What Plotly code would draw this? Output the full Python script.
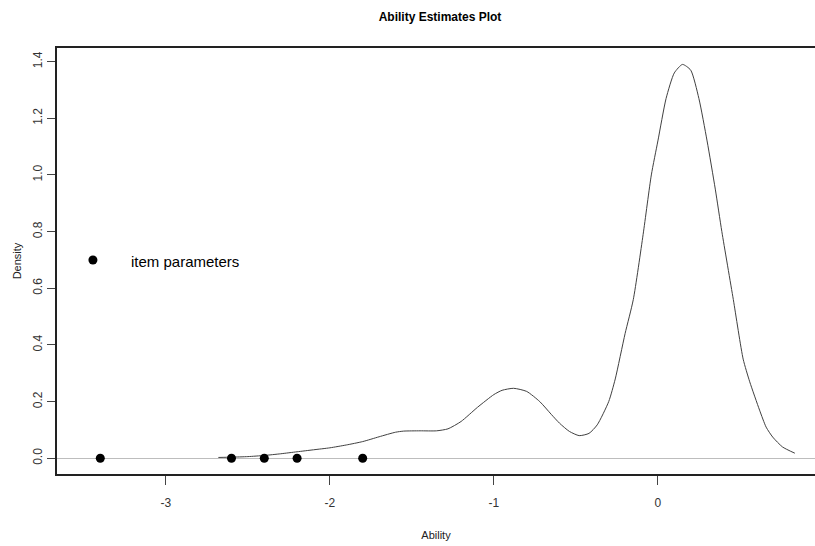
import plotly.graph_objects as go

# Density curve of ability estimates
ability_x = [-2.68, -2.6, -2.5, -2.4, -2.3, -2.2, -2.1, -2.0, -1.9, -1.8, -1.7, -1.6, -1.55,
             -1.45, -1.35, -1.28, -1.2, -1.1, -1.0, -0.95, -0.88, -0.8, -0.72, -0.65, -0.6,
             -0.54, -0.48, -0.42, -0.37, -0.3, -0.26, -0.2, -0.15, -0.09, -0.04, 0.0, 0.05,
             0.1, 0.15, 0.2, 0.25, 0.3, 0.35, 0.39, 0.46, 0.52, 0.56, 0.62, 0.66, 0.7, 0.76, 0.835]
density_y = [0.003, 0.004, 0.006, 0.01, 0.016, 0.023, 0.03, 0.037, 0.047, 0.059, 0.076, 0.092, 0.096,
             0.097, 0.097, 0.104, 0.13, 0.18, 0.225, 0.24, 0.247, 0.236, 0.2, 0.155, 0.124,
             0.095, 0.08, 0.088, 0.118, 0.2, 0.28, 0.44, 0.56, 0.79, 1.0, 1.12, 1.27,
             1.36, 1.39, 1.37, 1.27, 1.12, 0.95, 0.8, 0.56, 0.35, 0.27, 0.17, 0.11, 0.075, 0.04, 0.018]

# Item parameters (difficulties) plotted at density 0
item_params = [-3.4, -2.6, -2.4, -2.2, -1.8]
item_y = [0, 0, 0, 0, 0]

# Legend key
legend_label = "item parameters"
legend_x = [-3.445]
legend_y = [0.7]

x_ticks = [-3, -2, -1, 0]
y_ticks = [0.0, 0.2, 0.4, 0.6, 0.8, 1.0, 1.2, 1.4]

FONT = "Liberation Sans, Arial, sans-serif"

fig = go.Figure()
fig.add_trace(go.Scatter(x=ability_x, y=density_y, mode="lines",
                         line=dict(color="#404040", width=1, shape="spline", smoothing=0.6),
                         showlegend=False, hoverinfo="skip"))
fig.add_trace(go.Scatter(x=item_params, y=item_y, mode="markers",
                         marker=dict(color="black", size=9), showlegend=False))
fig.add_trace(go.Scatter(x=legend_x, y=legend_y, mode="markers",
                         marker=dict(color="black", size=9), showlegend=False))
fig.add_annotation(x=legend_x[0], y=legend_y[0], text=legend_label, showarrow=False,
                   xanchor="left", xshift=36, yshift=-2,
                   font=dict(family=FONT, size=15, color="black"))

fig.update_layout(
    width=815, height=546,
    margin=dict(l=57, r=0, t=48, b=72),
    paper_bgcolor="white", plot_bgcolor="white",
    title=dict(text="<b>Ability Estimates Plot</b>", x=440 / 815, xanchor="center",
               y=1 - 17 / 546, yanchor="middle",
               font=dict(family=FONT, size=12, color="black")),
    font=dict(family=FONT, color="#333333"),
    xaxis=dict(range=[-3.664, 0.958], tickvals=x_ticks, ticktext=[str(v) for v in x_ticks],
               automargin=False,
               showgrid=False, zeroline=False, showline=True, linecolor="#222222",
               linewidth=1.5, mirror=True, ticks="outside", ticklen=9, tickcolor="#444444",
               ticklabelstandoff=8,
               tickfont=dict(size=12, color="#333333"),
               title=dict(text="Ability", font=dict(size=11, color="#222222"), standoff=22)),
    yaxis=dict(range=[-0.0554, 1.448], tickvals=y_ticks, ticktext=[f"{v:.1f}" for v in y_ticks],
               automargin=False,
               tickangle=-90, showgrid=False, zeroline=True, zerolinecolor="#bdbdbd",
               zerolinewidth=1, showline=True, linecolor="#222222", linewidth=1.5,
               ticks="outside", ticklen=8, tickcolor="#444444",
               tickfont=dict(size=12, color="#333333"),
               title=dict(text="Density", font=dict(size=11, color="#222222"), standoff=8)),
)

fig.write_html("out.html", config={"displayModeBar": False},
               post_script="document.body.style.margin='0';")
